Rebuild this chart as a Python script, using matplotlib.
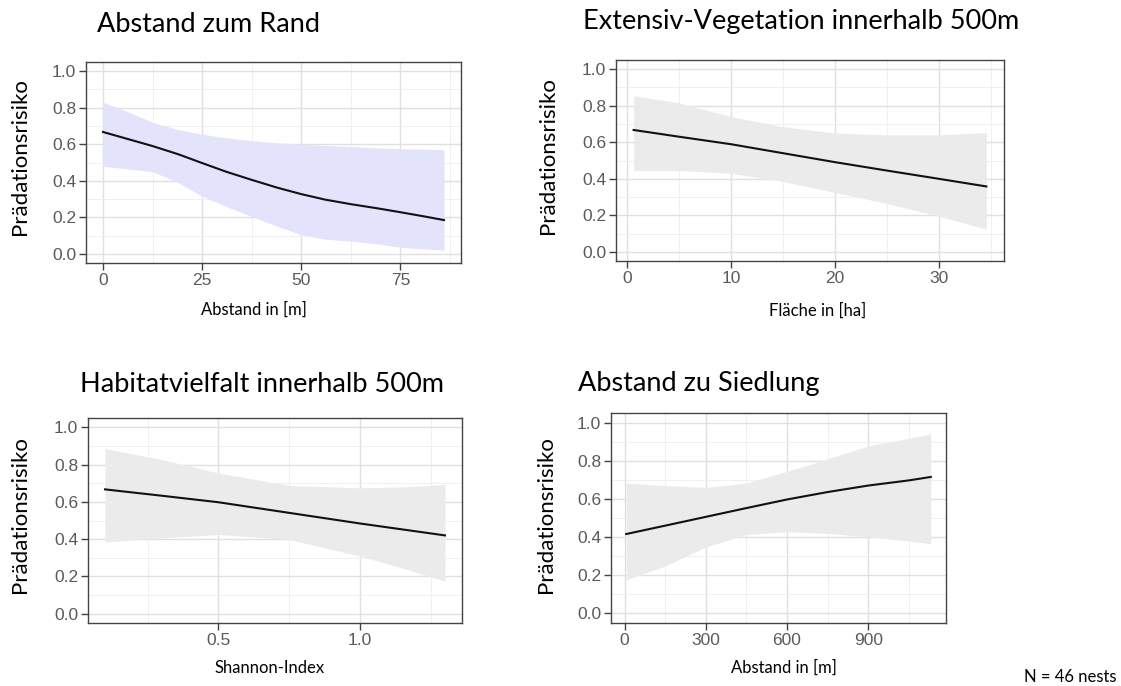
import matplotlib
matplotlib.use("Agg")
import matplotlib.pyplot as plt
import numpy as np
from matplotlib.ticker import MultipleLocator

W, H = 1121, 686

# --- data ---
rand_x = [0, 6, 12.5, 19, 25, 31, 37.5, 44, 50, 56, 62.5, 69, 75, 81, 86]
rand_fit = [0.667, 0.63, 0.59, 0.545, 0.497, 0.45, 0.405, 0.362, 0.327, 0.297, 0.272, 0.25, 0.228, 0.205, 0.185]
rand_hi = [0.83, 0.78, 0.72, 0.68, 0.655, 0.635, 0.62, 0.607, 0.60, 0.593, 0.587, 0.58, 0.576, 0.573, 0.57]
rand_lo = [0.48, 0.465, 0.45, 0.39, 0.315, 0.26, 0.205, 0.15, 0.105, 0.08, 0.07, 0.055, 0.036, 0.027, 0.02]

veg_x = [0.6, 5, 10, 15, 20, 25, 30, 34.6]
veg_fit = [0.667, 0.63, 0.589, 0.54, 0.491, 0.445, 0.40, 0.358]
veg_hi = [0.855, 0.815, 0.74, 0.685, 0.65, 0.64, 0.64, 0.653]
veg_lo = [0.445, 0.445, 0.43, 0.385, 0.325, 0.265, 0.195, 0.125]

hab_x = [0.10, 0.3, 0.5, 0.75, 1.0, 1.15, 1.30]
hab_fit = [0.667, 0.633, 0.598, 0.541, 0.484, 0.452, 0.42]
hab_hi = [0.886, 0.827, 0.755, 0.688, 0.675, 0.68, 0.693]
hab_lo = [0.384, 0.407, 0.425, 0.398, 0.309, 0.245, 0.175]

sied_x = [6, 150, 300, 450, 600, 750, 900, 1050, 1131]
sied_fit = [0.416, 0.46, 0.506, 0.552, 0.597, 0.636, 0.67, 0.697, 0.715]
sied_hi = [0.683, 0.67, 0.66, 0.683, 0.744, 0.809, 0.878, 0.918, 0.94]
sied_lo = [0.176, 0.249, 0.348, 0.414, 0.428, 0.419, 0.402, 0.379, 0.365]

titles = ["Abstand zum Rand", "Extensiv-Vegetation innerhalb 500m",
          "Habitatvielfalt innerhalb 500m", "Abstand zu Siedlung"]
xlabels = ["Abstand in [m]", "Fläche in [ha]", "Shannon-Index", "Abstand in [m]"]
ylabel = "Prädationsrisiko"

LAB_FONT = "Lato"
TICK_FONT = "Liberation Sans"

fig = plt.figure(figsize=(W / 100, H / 100), dpi=100)


def px_axes(l, t, r, b):
    return fig.add_axes([l / W, 1 - b / H, (r - l) / W, (b - t) / H])


def panel(box, x, fit, lo, hi, band, xmaj, xmin, xticks, xfmt):
    ax = px_axes(*box)
    span = max(x) - min(x)
    ax.set_xlim(min(x) - 0.05 * span, max(x) + 0.05 * span)
    ax.set_ylim(-0.05, 1.05)
    ax.xaxis.set_major_locator(MultipleLocator(xmaj))
    ax.xaxis.set_minor_locator(MultipleLocator(xmin))
    ax.yaxis.set_major_locator(MultipleLocator(0.2))
    ax.yaxis.set_minor_locator(MultipleLocator(0.1))
    ax.set_xticks(xticks)
    ax.set_xticklabels([xfmt(v) for v in xticks])
    ax.set_yticks([0, 0.2, 0.4, 0.6, 0.8, 1.0])
    ax.set_yticklabels(["0.0", "0.2", "0.4", "0.6", "0.8", "1.0"])
    ax.grid(True, which="major", color="#e0e0e0", lw=1.0, zorder=0)
    ax.grid(True, which="minor", color="#eeeeee", lw=0.6, zorder=0)
    ax.set_axisbelow(True)
    ax.fill_between(x, lo, hi, color=band, lw=0, zorder=1)
    ax.plot(x, fit, color="#111111", lw=1.5, zorder=2)
    for s in ax.spines.values():
        s.set_color("#444444")
        s.set_linewidth(1.0)
    ax.tick_params(which="major", length=5, width=1.0, color="#444444",
                   labelcolor="#5a5a5a", labelsize=12.5, pad=2)
    ax.tick_params(which="minor", length=0)
    for lab in ax.get_xticklabels() + ax.get_yticklabels():
        lab.set_family(TICK_FONT)
    return ax


lav = "#e3e3fc"
grey = "#ebebeb"

panel((86, 62, 461, 263), rand_x, rand_fit, rand_lo, rand_hi, lav,
      25, 12.5, [0, 25, 50, 75], lambda v: "%d" % v)
panel((616, 60, 1004, 261), veg_x, veg_fit, veg_lo, veg_hi, grey,
      10, 5, [0, 10, 20, 30], lambda v: "%d" % v)
panel((88, 418, 462, 623), hab_x, hab_fit, hab_lo, hab_hi, grey,
      0.5, 0.25, [0.5, 1.0], lambda v: "%.1f" % v)
panel((611, 413, 946, 623), sied_x, sied_fit, sied_lo, sied_hi, grey,
      300, 150, [0, 300, 600, 900], lambda v: "%d" % v)


def ftext(x, y, s, **kw):
    fig.text(x / W, 1 - y / H, s, **kw)


# titles
ftext(97, 24, titles[0], fontsize=19.5, family=LAB_FONT, va="center", ha="left")
ftext(583, 22, titles[1], fontsize=19.5, family=LAB_FONT, va="center", ha="left")
ftext(80, 384, titles[2], fontsize=19.5, family=LAB_FONT, va="center", ha="left")
ftext(578, 383, titles[3], fontsize=19.5, family=LAB_FONT, va="center", ha="left")

# y labels
for xx, yy in [(20, 157), (548, 156), (20, 515), (546, 515)]:
    ftext(xx, yy, ylabel, fontsize=16, family=LAB_FONT, rotation=90,
          va="center", ha="center")

# x labels
for (xx, yy), s in zip([(254, 310), (818, 311), (270, 668), (784, 668)], xlabels):
    ftext(xx, yy, s, fontsize=12, family=LAB_FONT, va="center", ha="center")

ftext(1117, 677, "N = 46 nests", fontsize=12, family=LAB_FONT, va="center", ha="right")

fig.savefig("out.png", dpi=100)
